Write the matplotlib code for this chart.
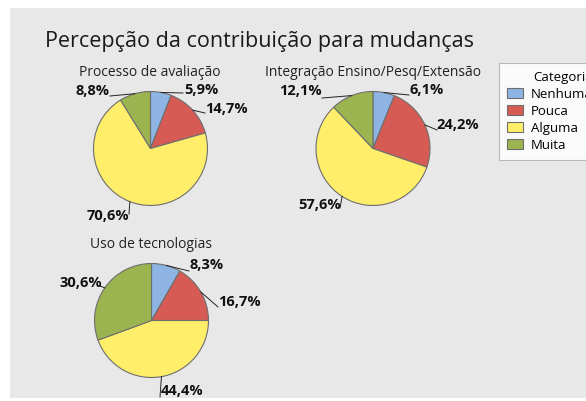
import numpy as np
import matplotlib.pyplot as plt
from matplotlib.patches import Rectangle, Patch

plt.rcParams['font.family'] = ['Open Sans', 'DejaVu Sans']

# dados
categorias = ["Nenhuma", "Pouca", "Alguma", "Muita"]
cores = ["#8db4e2", "#d65b55", "#ffee6a", "#9bb44f"]
titulos = ["Processo de avaliação", "Integração Ensino/Pesq/Extensão", "Uso de tecnologias"]
avaliacao = [5.9, 14.7, 70.6, 8.8]
integracao = [6.1, 24.2, 57.6, 12.1]
tecnologias = [8.3, 16.7, 44.4, 30.6]
series = [avaliacao, integracao, tecnologias]

W, H = 586, 401

# layout (pixels, y from top)
centros = [(150.5, 148.5), (373, 148.5), (151.5, 320.5)]
raio = 57
pos_titulo = [(150, 73), (373, 73), (151, 244)]
pos_texto = [
    [(184, 90, 'left'), (205, 109, 'left'), (129, 216, 'right'), (110, 91, 'right')],
    [(409, 90, 'left'), (436, 125, 'left'), (341, 205, 'right'), (322, 91, 'right')],
    [(189, 265, 'left'), (218, 302, 'left'), (161, 391, 'left'), (102, 283, 'right')],
]
fim_linha = [
    [(183, 93), (205, 113), (129, 214), (110, 96)],
    [(409, 95), (437, 130), (340, 208), (322, 98)],
    [(189, 271), (218, 307), (160, 397), (100, 286)],
]

fig = plt.figure(figsize=(W / 100, H / 100), dpi=100)
fig.patch.set_facecolor('white')
fig.patches.append(Rectangle((10 / W, 3 / H), 1, 1 - 11 / H, transform=fig.transFigure,
                             facecolor='#e8e8e8', edgecolor='none', zorder=-5))

ax = fig.add_axes([0, 0, 1, 1])
ax.set_zorder(1)

for i, vals in enumerate(series):
    cx, cy = centros[i]
    wedges, _ = ax.pie(vals, colors=cores, startangle=90, counterclock=False,
                       center=(cx, H - cy), radius=raio,
                       wedgeprops=dict(edgecolor='#6e6e6e', linewidth=0.8))
    ax.text(pos_titulo[i][0], H - pos_titulo[i][1], titulos[i], ha='center', va='center',
            fontsize=10, color='#222222')
    for j, w in enumerate(wedges):
        ang = np.deg2rad((w.theta1 + w.theta2) / 2)
        x0 = cx + raio * np.cos(ang)
        y0 = (H - cy) + raio * np.sin(ang)
        lx, ly = fim_linha[i][j]
        ax.plot([x0, lx], [y0, H - ly], color='#222222', lw=0.7)
        tx, ty, ha = pos_texto[i][j]
        ax.text(tx, H - ty, f"{vals[j]:.1f}%".replace('.', ','), ha=ha, va='center',
                fontsize=10.5, fontweight='bold', color='#111111')

ax.set_xlim(0, W)
ax.set_ylim(0, H)
ax.set_aspect('equal')
ax.axis('off')

fig.text(45 / W, 1 - 41 / H, "Percepção da contribuição para mudanças", fontsize=15.5,
         color='#1a1a1a', va='center', ha='left')

handles = [Patch(facecolor=c, edgecolor='#6e6e6e', linewidth=0.8) for c in cores]
leg = fig.legend(handles, categorias, title="Categoria", loc='upper left',
                 bbox_to_anchor=(499 / W, 1 - 63 / H), frameon=True, fontsize=9.5,
                 title_fontsize=9.5, handlelength=1.2, handleheight=0.75,
                 handletextpad=0.6, labelspacing=0.3, borderpad=0.6,
                 borderaxespad=0, alignment='right', fancybox=False)
leg.get_frame().set_edgecolor('#aaaaaa')
leg.get_frame().set_linewidth(0.8)
leg.set_zorder(5)

fig.savefig("out.png", dpi=100)
